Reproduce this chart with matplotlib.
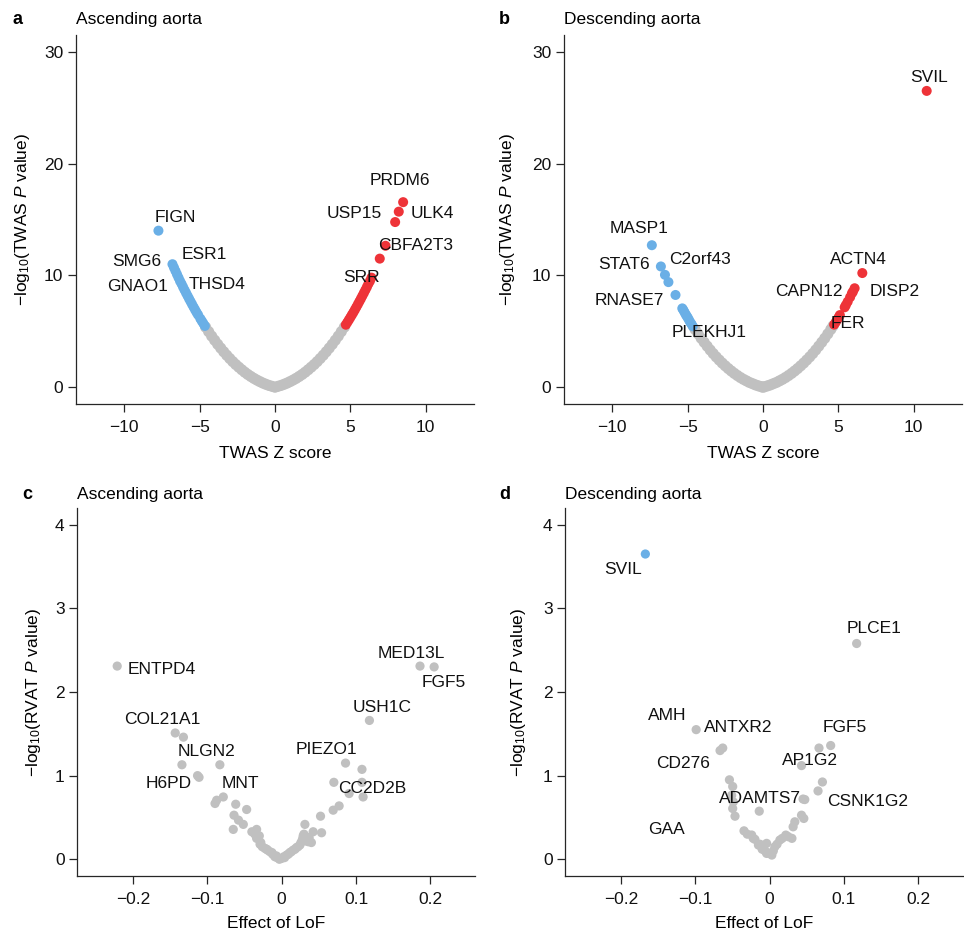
import matplotlib
matplotlib.use('Agg')
import matplotlib.pyplot as plt

plt.rcParams['font.family'] = ['Liberation Sans', 'DejaVu Sans']
plt.rcParams['mathtext.fontset'] = 'custom'
plt.rcParams['mathtext.rm'] = 'Liberation Sans'
plt.rcParams['mathtext.it'] = 'Liberation Sans:italic'

GRAY = '#c0c0c0'
BLUE = '#6aafe6'
RED = '#ee3338'
FS = 12.5

# --- TWAS, ascending aorta ---
a_null_z = [-4.6, -4.4, -4.2, -4.0, -3.8, -3.6, -3.4, -3.2, -3.0, -2.8, -2.6, -2.4, -2.2, -2.0,
            -1.8, -1.6, -1.4, -1.2, -1.0, -0.8, -0.6, -0.4, -0.2, 0.0, 0.2, 0.4, 0.6, 0.8, 1.0,
            1.2, 1.4, 1.6, 1.8, 2.0, 2.2, 2.4, 2.6, 2.8, 3.0, 3.2, 3.4, 3.6, 3.8, 4.0, 4.2, 4.4, 4.6]
a_null_y = [5.37, 4.97, 4.57, 4.20, 3.84, 3.50, 3.17, 2.86, 2.57, 2.29, 2.03, 1.79, 1.56, 1.34,
            1.14, 0.96, 0.79, 0.64, 0.50, 0.37, 0.26, 0.16, 0.08, 0.0, 0.08, 0.16, 0.26, 0.37, 0.50,
            0.64, 0.79, 0.96, 1.14, 1.34, 1.56, 1.79, 2.03, 2.29, 2.57, 2.86, 3.17, 3.50, 3.84, 4.20, 4.57, 4.97, 5.37]
a_down_z = [-7.73, -6.8, -6.7, -6.6, -6.5, -6.4, -6.3, -6.2, -6.1, -6.0, -5.9, -5.8, -5.7, -5.6,
            -5.5, -5.4, -5.3, -5.2, -5.1, -4.95, -4.85, -4.75, -4.65]
a_down_y = [14.0, 11.0, 10.7, 10.4, 10.1, 9.8, 9.5, 9.25, 8.97, 8.7, 8.44, 8.18, 7.92, 7.67,
            7.42, 7.17, 6.93, 6.69, 6.47, 6.13, 5.91, 5.7, 5.48]
a_up_z = [4.7, 4.8, 4.9, 5.0, 5.1, 5.2, 5.3, 5.4, 5.5, 5.6, 5.7, 5.8, 5.9, 6.0, 6.1, 6.2, 6.3, 6.4,
          6.95, 7.33, 7.97, 8.21, 8.5]
a_up_y = [5.59, 5.8, 6.02, 6.24, 6.47, 6.69, 6.93, 7.17, 7.42, 7.67, 7.92, 8.18, 8.44, 8.7, 8.97, 9.25, 9.5, 9.8,
          11.5, 12.65, 14.77, 15.7, 16.55]
a_genes = ['FIGN', 'SMG6', 'GNAO1', 'ESR1', 'THSD4', 'PRDM6', 'USP15', 'ULK4', 'CBFA2T3', 'SRR']
a_gene_x = [-6.6, -9.17, -9.14, -4.72, -3.85, 8.26, 5.26, 10.41, 9.35, 5.77]
a_gene_y = [15.2, 11.2, 9.02, 11.9, 9.17, 18.45, 15.57, 15.54, 12.65, 9.82]

# --- TWAS, descending aorta ---
b_null_z = [-4.5, -4.3, -4.1, -3.9, -3.7, -3.5, -3.3, -3.1, -2.9, -2.7, -2.5, -2.3, -2.1, -1.9,
            -1.7, -1.5, -1.3, -1.1, -0.9, -0.7, -0.5, -0.3, -0.1, 0.0, 0.1, 0.3, 0.5, 0.7, 0.9, 1.1,
            1.3, 1.5, 1.7, 1.9, 2.1, 2.3, 2.5, 2.7, 2.9, 3.1, 3.3, 3.5, 3.7, 3.9, 4.1, 4.3, 4.5, 4.65]
b_null_y = [5.17, 4.77, 4.38, 4.02, 3.67, 3.33, 3.01, 2.71, 2.43, 2.16, 1.91, 1.67, 1.45, 1.24,
            1.05, 0.87, 0.71, 0.57, 0.43, 0.32, 0.21, 0.12, 0.04, 0.0, 0.04, 0.12, 0.21, 0.32, 0.43, 0.57,
            0.71, 0.87, 1.05, 1.24, 1.45, 1.67, 1.91, 2.16, 2.43, 2.71, 3.01, 3.33, 3.67, 4.02, 4.38, 4.77, 5.17, 5.48]
b_down_z = [-7.37, -6.77, -6.5, -6.27, -5.8, -5.35, -5.28, -5.2, -5.12, -5.05, -4.98, -4.9, -4.82, -4.74, -4.66]
b_down_y = [12.7, 10.8, 10.05, 9.4, 8.25, 7.05, 6.9, 6.7, 6.5, 6.35, 6.2, 6.0, 5.8, 5.65, 5.45]
b_up_z = [10.86, 6.59, 6.08, 5.97, 5.9, 5.78, 5.62, 5.5, 5.42, 5.1, 5.02, 4.93, 4.82, 4.72]
b_up_y = [26.5, 10.21, 8.85, 8.55, 8.4, 8.05, 7.65, 7.35, 7.15, 6.45, 6.25, 6.05, 5.8, 5.6]
b_genes = ['MASP1', 'STAT6', 'C2orf43', 'RNASE7', 'PLEKHJ1', 'SVIL', 'ACTN4', 'CAPN12', 'DISP2', 'FER']
b_gene_x = [-8.23, -9.22, -4.2, -8.84, -3.6, 11.03, 6.36, 3.07, 8.74, 5.66]
b_gene_y = [14.23, 11.0, 11.4, 7.74, 4.86, 27.7, 11.4, 8.52, 8.52, 5.69]

# --- RVAT, ascending aorta ---
c_lof = [-0.221, 0.186, 0.205, 0.118, -0.143, -0.132, -0.134, -0.083, -0.113, -0.111,
         -0.0873, -0.0784, -0.0895, -0.0617, -0.047, -0.064, -0.058, -0.0515, -0.065, -0.0336,
         -0.040, -0.0336, -0.029, -0.0224, -0.0157, -0.009, -0.003, -0.012, -0.019, -0.026, -0.006,
         -0.030, -0.036, -0.028, -0.020, -0.013, -0.007,
         0.0859, 0.108, 0.0702, 0.108, 0.0907, 0.1095, 0.0773, 0.0693, 0.0523, 0.0313, 0.0537,
         0.0424, 0.0313, 0.0357, 0.0246, 0.0156, 0.0067, 0.0, 0.028, 0.030, 0.037, 0.020, 0.011, 0.003,
         0.004, 0.009, 0.013, 0.018, 0.022, 0.026, 0.033, 0.029, 0.040]
c_logp = [2.31, 2.31, 2.30, 1.66, 1.51, 1.46, 1.13, 1.13, 1.0, 0.98,
          0.706, 0.745, 0.667, 0.658, 0.595, 0.527, 0.468, 0.417, 0.357, 0.357,
          0.329, 0.25, 0.18, 0.13, 0.09, 0.03, 0.0, 0.06, 0.11, 0.15, 0.02,
          0.28, 0.30, 0.20, 0.12, 0.08, 0.04,
          1.15, 1.075, 0.92, 0.92, 0.786, 0.745, 0.638, 0.587, 0.515, 0.417, 0.317,
          0.329, 0.27, 0.21, 0.17, 0.11, 0.05, 0.01, 0.24, 0.30, 0.26, 0.14, 0.08, 0.03,
          0.02, 0.06, 0.09, 0.12, 0.15, 0.20, 0.22, 0.28, 0.20]
c_genes = ['ENTPD4', 'MED13L', 'FGF5', 'USH1C', 'COL21A1', 'NLGN2', 'H6PD', 'MNT', 'PIEZO1', 'CC2D2B']
c_gene_x = [-0.161, 0.1745, 0.2175, 0.1346, -0.160, -0.1016, -0.152, -0.055, 0.0604, 0.1223]
c_gene_y = [2.27, 2.46, 2.11, 1.82, 1.67, 1.29, 0.91, 0.91, 1.31, 0.845]

# --- RVAT, descending aorta ---
d_sig_lof = [-0.167]
d_sig_logp = [3.65]
d_lof = [0.117, -0.0987, -0.0666, -0.063, -0.054, -0.0496, -0.051, -0.0488, -0.0496, -0.0465,
         -0.0139, -0.0344, -0.0241, -0.0197, -0.013, -0.0086, -0.004,
         -0.030, -0.022, -0.015, -0.010, -0.006,
         0.0664, 0.0821, 0.0429, 0.071, 0.0651, 0.0473, 0.045, 0.0429, 0.046, 0.0339, 0.0316,
         0.0218, 0.0138, 0.0071, 0.0004, -0.004, -0.0107,
         0.003, 0.005, 0.010, 0.017, 0.025, 0.030]
d_logp = [2.58, 1.55, 1.30, 1.33, 0.95, 0.87, 0.765, 0.686, 0.607, 0.515,
          0.575, 0.34, 0.29, 0.238, 0.18, 0.13, 0.07,
          0.30, 0.25, 0.17, 0.12, 0.10,
          1.33, 1.36, 1.12, 0.924, 0.817, 0.714, 0.72, 0.527, 0.488, 0.448, 0.388,
          0.289, 0.23, 0.15, 0.07, 0.19, 0.15,
          0.05, 0.10, 0.18, 0.25, 0.27, 0.25]
d_genes = ['SVIL', 'PLCE1', 'AMH', 'ANTXR2', 'CD276', 'FGF5', 'AP1G2', 'ADAMTS7', 'CSNK1G2', 'GAA']
d_gene_x = [-0.1965, 0.140, -0.138, -0.0425, -0.1157, 0.1009, 0.0542, -0.0123, 0.1317, -0.1387]
d_gene_y = [3.46, 2.76, 1.72, 1.58, 1.14, 1.58, 1.18, 0.726, 0.694, 0.36]

fig = plt.figure(figsize=(9.64, 9.33), dpi=100)
ax_a = fig.add_axes([0.0788, 0.567, 0.4129, 0.3955])
ax_b = fig.add_axes([0.585, 0.567, 0.4129, 0.3955])
ax_c = fig.add_axes([0.0799, 0.0611, 0.4129, 0.3944])
ax_d = fig.add_axes([0.5861, 0.0611, 0.4129, 0.3944])

S_BAND = 64   # dense TWAS band
S_DOT = 52    # single genes
S_RVAT = 44


def style(ax):
    for side in ['top', 'right']:
        ax.spines[side].set_visible(False)
    for side in ['left', 'bottom']:
        ax.spines[side].set_linewidth(0.9)
        ax.spines[side].set_color('#262626')
    ax.tick_params(axis='both', direction='out', length=5.5, width=0.9, color='#262626',
                   labelsize=FS, labelcolor='#111111')
    ax.tick_params(axis='x', pad=6)
    ax.tick_params(axis='y', pad=3.5)


def labels(ax, names, xs, ys):
    for n, x, y in zip(names, xs, ys):
        ax.text(x, y, n, ha='center', va='center', fontsize=FS, color='#111111', zorder=5)


ylab_twas = '\u2212log$_{10}$(TWAS $P$ value)'
ylab_rvat = '\u2212log$_{10}$(RVAT $P$ value)'

# TWAS panels
for ax, nz, ny, dz, dy, uz, uy, g, gx, gy in [
        (ax_a, a_null_z, a_null_y, a_down_z, a_down_y, a_up_z, a_up_y, a_genes, a_gene_x, a_gene_y),
        (ax_b, b_null_z, b_null_y, b_down_z, b_down_y, b_up_z, b_up_y, b_genes, b_gene_x, b_gene_y)]:
    ax.scatter(nz, ny, s=S_BAND, color=GRAY, edgecolors='none', zorder=2)
    ax.scatter(dz, dy, s=S_DOT, color=BLUE, edgecolors='none', zorder=3)
    ax.scatter(uz, uy, s=S_DOT, color=RED, edgecolors='none', zorder=3)
    labels(ax, g, gx, gy)
    ax.set_xlim(-13.2, 13.2)
    ax.set_ylim(-1.5, 31.5)
    ax.set_xticks([-10, -5, 0, 5, 10])
    ax.set_xticklabels(['\u221210', '\u22125', '0', '5', '10'])
    ax.set_yticks([0, 10, 20, 30])
    ax.set_xlabel('TWAS Z score', fontsize=FS)
    ax.set_ylabel(ylab_twas, fontsize=FS)
    ax.xaxis.set_label_coords(0.5, -0.114)
    style(ax)
ax_a.yaxis.set_label_coords(-0.11, 0.5)
ax_b.yaxis.set_label_coords(-0.118, 0.5)

# RVAT panels
ax_c.scatter(c_lof, c_logp, s=S_RVAT, color=GRAY, edgecolors='none', zorder=2)
labels(ax_c, c_genes, c_gene_x, c_gene_y)
ax_d.scatter(d_lof, d_logp, s=S_RVAT, color=GRAY, edgecolors='none', zorder=2)
ax_d.scatter(d_sig_lof, d_sig_logp, s=S_RVAT, color=BLUE, edgecolors='none', zorder=3)
labels(ax_d, d_genes, d_gene_x, d_gene_y)
for ax in [ax_c, ax_d]:
    ax.set_xlim(-0.275, 0.26)
    ax.set_ylim(-0.2, 4.2)
    ax.set_xticks([-0.2, -0.1, 0, 0.1, 0.2])
    ax.set_xticklabels(['\u22120.2', '\u22120.1', '0', '0.1', '0.2'])
    ax.set_yticks([0, 1, 2, 3, 4])
    ax.set_xlabel('Effect of LoF', fontsize=FS)
    ax.set_ylabel(ylab_rvat, fontsize=FS)
    ax.xaxis.set_label_coords(0.5, -0.108)
    style(ax)
ax_c.yaxis.set_label_coords(-0.085, 0.5)
ax_d.yaxis.set_label_coords(-0.093, 0.5)

# panel letters and titles
for letter, lx, tx, ty, title in [('a', 0.0125, 0.0788, 0.9786, 'Ascending aorta'),
                                  ('b', 0.5176, 0.585, 0.9786, 'Descending aorta'),
                                  ('c', 0.0235, 0.0799, 0.4695, 'Ascending aorta'),
                                  ('d', 0.5176, 0.5861, 0.4695, 'Descending aorta')]:
    fig.text(lx, ty, letter, fontsize=13, fontweight='bold', ha='left', va='center')
    fig.text(tx, ty, title, fontsize=FS, ha='left', va='center')

plt.savefig('out.png', dpi=100)
